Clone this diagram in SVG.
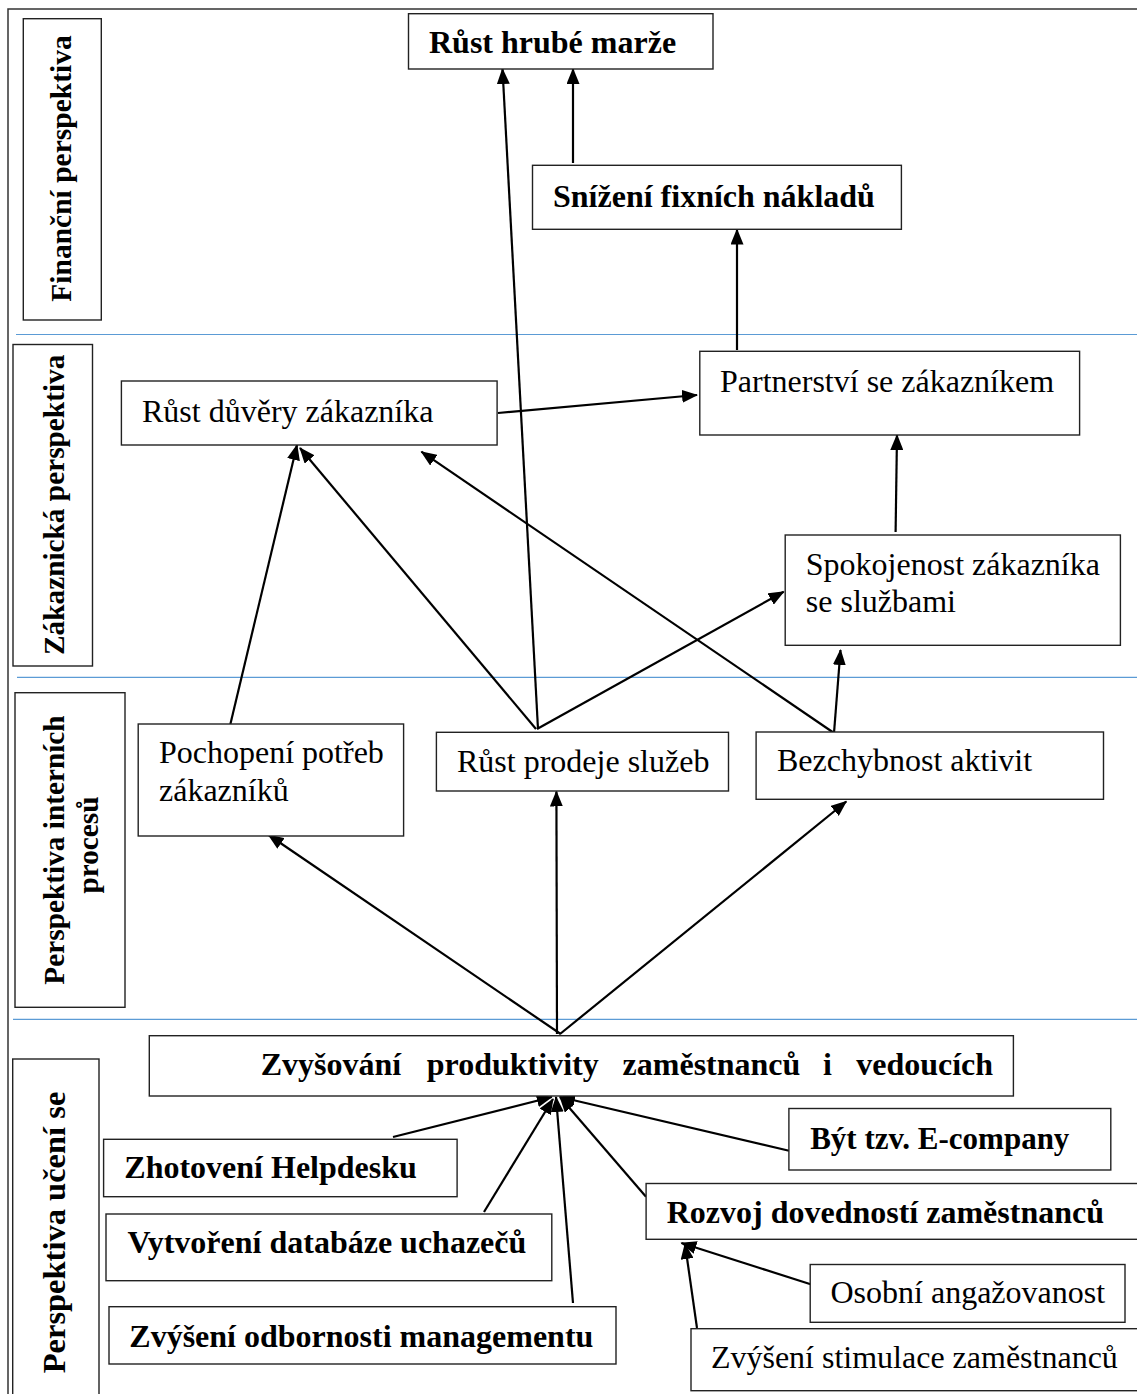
<svg xmlns="http://www.w3.org/2000/svg" width="1137" height="1394" viewBox="0 0 1137 1394">
<style>
  .box { fill: #fff; stroke: #222; stroke-width: 1.4; }
  .lbl { fill: #fff; stroke: #222; stroke-width: 1.4; }
  .t { font-family: "Liberation Serif", "Times New Roman", serif; font-size: 32px; fill: #000; }
  .b { font-weight: bold; }
  .rot { font-family: "Liberation Serif", "Times New Roman", serif; font-weight: bold; font-size: 29.5px; fill: #000; }
  .sep { stroke: #5b9bd5; stroke-width: 1.2; }
  .frame { stroke: #333; stroke-width: 1.5; fill: none; }
  .c line { stroke: #000; stroke-width: 2.2; marker-end: url(#ah); }
</style>
<defs>
  <marker id="ah" viewBox="0 0 16 13" refX="15" refY="6.5" markerWidth="16" markerHeight="13" markerUnits="userSpaceOnUse" orient="auto">
    <path d="M0,0 L16,6.5 L0,13 z" fill="#000"/>
  </marker>
</defs>
<rect width="1137" height="1394" fill="#fff"/>

<g id="frame">
  <path class="frame" d="M8,1394 V9 H1137"/>
  <line class="sep" x1="16" y1="334.5" x2="1137" y2="334.5"/>
  <line class="sep" x1="17" y1="677.3" x2="1137" y2="677.3"/>
  <line class="sep" x1="13" y1="1019.3" x2="1137" y2="1019.3"/>
</g>

<g id="lane-financni">
  <rect class="lbl" x="23.3" y="18.7" width="78" height="301.3"/>
  <text class="rot" transform="translate(70.5,301.7) rotate(-90)">Finanční perspektiva</text>
</g>
<g id="lane-zakaznicka">
  <rect class="lbl" x="13" y="344.5" width="79.5" height="321.5"/>
  <text class="rot" style="font-size:29.3px" transform="translate(64,655) rotate(-90)">Zákaznická perspektiva</text>
</g>
<g id="lane-interni">
  <rect class="lbl" x="15" y="692.7" width="110" height="314.6"/>
  <text class="rot" style="font-size:29.3px" text-anchor="middle" transform="translate(64,850) rotate(-90)">Perspektiva interních</text>
  <text class="rot" style="font-size:29.3px" text-anchor="middle" transform="translate(97.5,845) rotate(-90)">procesů</text>
</g>
<g id="lane-uceni">
  <rect class="lbl" x="12.7" y="1059" width="86.3" height="345"/>
  <text class="rot" style="font-size:32.5px" transform="translate(65,1373.3) rotate(-90)">Perspektiva učení se</text>
</g>

<g id="connectors" class="c">
  <line x1="573" y1="163" x2="573" y2="69"/>
  <line x1="737" y1="350" x2="737" y2="229.5"/>
  <line x1="538" y1="729" x2="502.5" y2="69"/>
  <line x1="498" y1="413" x2="697" y2="395"/>
  <line x1="895.6" y1="532" x2="897" y2="435"/>
  <line x1="230.4" y1="724" x2="297" y2="445"/>
  <line x1="536" y1="729" x2="300" y2="448"/>
  <line x1="834" y1="733" x2="421.4" y2="451.7"/>
  <line x1="537" y1="729" x2="783.7" y2="591.7"/>
  <line x1="834" y1="733" x2="840.5" y2="650"/>
  <line x1="560.7" y1="1034" x2="268.6" y2="835"/>
  <line x1="557" y1="1034" x2="556.4" y2="791.5"/>
  <line x1="560" y1="1034" x2="846.3" y2="801.5"/>
  <line x1="393" y1="1137" x2="551.8" y2="1097"/>
  <line x1="484" y1="1212" x2="553" y2="1099"/>
  <line x1="573" y1="1303" x2="556" y2="1097"/>
  <line x1="789" y1="1150.7" x2="560" y2="1097"/>
  <line x1="646" y1="1196.7" x2="560" y2="1097"/>
  <line x1="813" y1="1285" x2="681.4" y2="1243"/>
  <line x1="697" y1="1328" x2="685" y2="1244"/>
</g>

<g id="rust-hrube-marze">
  <rect class="box" x="408.5" y="13.7" width="304.5" height="55.3"/>
  <text class="t b" x="429" y="53.3">Růst hrubé marže</text>
</g>
<g id="snizeni-fixnich-nakladu">
  <rect class="box" x="532.5" y="165.3" width="368.9" height="64"/>
  <text class="t b" x="553" y="206.7">Snížení fixních nákladů</text>
</g>
<g id="partnerstvi">
  <rect class="box" x="699.8" y="351.3" width="379.8" height="83.7"/>
  <text class="t" x="720" y="391.7">Partnerství se zákazníkem</text>
</g>
<g id="rust-duvery">
  <rect class="box" x="121.4" y="381" width="375.7" height="64"/>
  <text class="t" x="142" y="421.7">Růst důvěry zákazníka</text>
</g>
<g id="spokojenost">
  <rect class="box" x="785.2" y="535" width="335.2" height="110.3"/>
  <text class="t" x="805.8" y="575">Spokojenost zákazníka</text>
  <text class="t" x="805.8" y="611.7">se službami</text>
</g>
<g id="pochopeni">
  <rect class="box" x="138.2" y="724" width="265.4" height="112"/>
  <text class="t" x="159" y="763.3">Pochopení potřeb</text>
  <text class="t" x="159" y="800.7">zákazníků</text>
</g>
<g id="rust-prodeje">
  <rect class="box" x="436.4" y="732.3" width="292.1" height="58.7"/>
  <text class="t" x="457" y="771.7">Růst prodeje služeb</text>
</g>
<g id="bezchybnost">
  <rect class="box" x="756.1" y="732" width="347.4" height="67.3"/>
  <text class="t" x="777" y="770.7">Bezchybnost aktivit</text>
</g>
<g id="zvysovani">
  <rect class="box" x="149.3" y="1035.7" width="864.1" height="60.3"/>
  <text class="t b" y="1075"><tspan x="260.7">Zvyšování</tspan><tspan x="426.8">produktivity</tspan><tspan x="622.6">zaměstnanců</tspan><tspan x="823.1">i</tspan><tspan x="856.2">vedoucích</tspan></text>
</g>
<g id="zhotoveni-helpdesku">
  <rect class="box" x="103.6" y="1139.3" width="353.5" height="57.4"/>
  <text class="t b" x="124.3" y="1178.3">Zhotovení Helpdesku</text>
</g>
<g id="vytvoreni-databaze">
  <rect class="box" x="106" y="1214" width="445.8" height="66.7"/>
  <text class="t b" x="127.5" y="1253.3">Vytvoření databáze uchazečů</text>
</g>
<g id="zvyseni-odbornosti">
  <rect class="box" x="109" y="1306.7" width="507" height="57.3"/>
  <text class="t b" x="129.3" y="1346.7">Zvýšení odbornosti managementu</text>
</g>
<g id="byt-e-company">
  <rect class="box" x="788.9" y="1108.5" width="321.9" height="61.5"/>
  <text class="t b" style="font-size:31px" x="810.2" y="1149.3">Být tzv. E-company</text>
</g>
<g id="rozvoj-dovednosti">
  <rect class="box" x="646.1" y="1183.5" width="500" height="55.8"/>
  <text class="t b" x="666.7" y="1223.3">Rozvoj dovedností zaměstnanců</text>
</g>
<g id="osobni-angazovanost">
  <rect class="box" x="810.2" y="1264.5" width="314.8" height="57.8"/>
  <text class="t" x="830.5" y="1303.3">Osobní angažovanost</text>
</g>
<g id="zvyseni-stimulace">
  <rect class="box" x="691" y="1328.7" width="460" height="62"/>
  <text class="t" x="710.9" y="1368.3">Zvýšení stimulace zaměstnanců</text>
</g>
</svg>
